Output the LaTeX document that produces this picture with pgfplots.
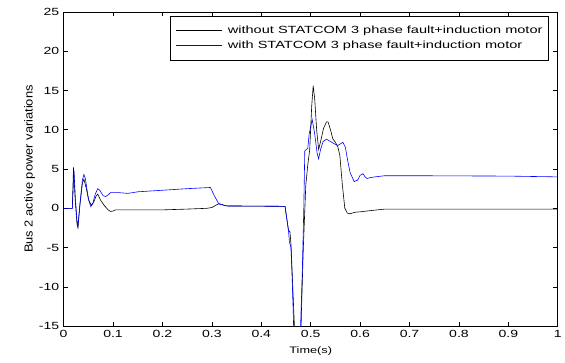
\documentclass[border=0pt]{standalone}
\usepackage{fontspec}
\setmainfont{Liberation Sans}
\usepackage{graphicx}
\newcommand\sx[1]{\scalebox{1.35}[1]{#1}}
\newcommand\lx[1]{\scalebox{1.4}[1]{#1}}
\usepackage{pgfplots}
\pgfplotsset{compat=1.18}
\begin{document}
\begin{tikzpicture}
\begin{axis}[
  name=ax,
  scale only axis,
  width=497bp, height=316bp,
  xmin=0, xmax=1, ymin=-15, ymax=25,
  xtick={0,0.1,...,1.0},
  xticklabels={\sx{0},\sx{0.1},\sx{0.2},\sx{0.3},\sx{0.4},\sx{0.5},\sx{0.6},\sx{0.7},\sx{0.8},\sx{0.9},\sx{1}},
  ytick={-15,-10,-5,0,5,10,15,20,25},
  yticklabels={\sx{-15},\sx{-10},\sx{-5},\sx{0},\sx{5},\sx{10},\sx{15},\sx{20},\sx{25}},
  tick align=inside,
  major tick length=4.5bp,
  tick style={black, line width=0.6pt},
  axis line style={line width=0.7pt},
  every axis plot/.append style={line width=0.6pt},
  ticklabel style={font=\fontsize{10.5}{12}\selectfont},
  xticklabel style={yshift=-1bp},
  yticklabel style={xshift=-1bp},
  xlabel={\sx{Time(s)}},
  ylabel={\scalebox{1}[0.9]{Bus 2 active power variations}},
  xlabel style={font=\fontsize{9.5}{11}\selectfont, yshift=-2bp},
  ylabel style={font=\fontsize{13}{14}\selectfont, yshift=-3bp},
  clip=true,
]
\addplot[black] coordinates {
(0,0) (0.0175,0) (0.02,5.2) (0.0235,1) (0.027,-2.0) (0.029,-2.5) (0.033,0.5) (0.038,3.2)
(0.041,3.7) (0.046,2.5) (0.051,1.0) (0.056,0.4) (0.061,0.8) (0.066,1.6) (0.069,1.8)
(0.075,1.0) (0.083,0.3) (0.09,-0.2) (0.095,-0.4) (0.1,-0.35) (0.105,-0.2) (0.2,-0.2)
(0.25,-0.1) (0.29,0) (0.3,0.1) (0.314,0.6) (0.33,0.3) (0.448,0.25) (0.452,-1.5)
(0.455,-2.8) (0.458,-3.0) (0.46,-4.5) (0.463,-9) (0.467,-15) (0.472,-20) (0.479,-20)
(0.481,-13.6) (0.485,-5.1) (0.49,2.9) (0.494,5.5) (0.498,7.5) (0.502,13) (0.505,15.6)
(0.508,14) (0.512,10) (0.516,7.5) (0.52,8.5) (0.526,10.2) (0.532,11) (0.535,11)
(0.54,10) (0.545,8.8) (0.55,8.4) (0.555,7.8) (0.559,6.7) (0.564,3) (0.569,0)
(0.574,-0.6) (0.579,-0.7) (0.59,-0.5) (0.6,-0.45) (0.62,-0.3) (0.65,-0.1) (1.0,-0.1)
};
\addplot[color=blue] coordinates {
(0,0) (0.0175,0) (0.021,4.8) (0.0235,1.5) (0.027,-1.5) (0.029,-2.2) (0.033,0.5)
(0.038,3.6) (0.041,4.3) (0.044,3.8) (0.05,1.2) (0.055,0.2) (0.059,0.6) (0.064,1.8)
(0.069,2.5) (0.073,2.3) (0.08,1.6) (0.085,1.5) (0.09,1.7) (0.095,2.0) (0.11,2.0)
(0.13,1.9) (0.15,2.1) (0.2,2.3) (0.25,2.5) (0.297,2.65) (0.305,1.6) (0.314,0.55)
(0.33,0.3) (0.448,0.25) (0.452,-1.5) (0.455,-2.8) (0.457,-4.3) (0.46,-5.0) (0.462,-8)
(0.465,-14) (0.467,-20) (0.478,-20) (0.48,-14) (0.483,-8) (0.486,0) (0.488,7.3)
(0.491,7.5) (0.494,7.6) (0.497,9.5) (0.503,11.3) (0.508,9.5) (0.513,7) (0.516,6.3)
(0.52,7.5) (0.525,8.5) (0.532,8.8) (0.54,8.5) (0.548,8.2) (0.555,8.0) (0.56,8.2)
(0.565,8.4) (0.57,7.8) (0.575,6.0) (0.58,4.5) (0.588,3.4) (0.595,3.6) (0.6,4.2)
(0.606,4.4) (0.61,4.0) (0.614,3.8) (0.62,3.9) (0.63,4.0) (0.65,4.15) (0.7,4.15)
(0.9,4.1) (1.0,4.0)
};
\end{axis}
\node[draw=black, line width=0.7pt, fill=white, anchor=north east, inner xsep=6bp, inner ysep=6.5bp,
  font=\fontsize{10.5}{12}\selectfont]
  at ([shift={(-9bp,-4bp)}]ax.north east) {%
  \renewcommand{\arraystretch}{1.3}%
  \begin{tabular}{@{}l@{\hspace{6bp}}l@{}}
  \textcolor{black}{\rule[0.3em]{46bp}{0.7pt}} & \lx{without STATCOM 3 phase fault+induction motor}\\
  \textcolor{blue}{\rule[0.3em]{46bp}{0.7pt}} & \lx{with STATCOM 3 phase fault+induction motor}
  \end{tabular}};
\path ([shift={(-64bp,-37bp)}]ax.south west) rectangle ([shift={(4bp,12bp)}]ax.north east);
\end{tikzpicture}
\end{document}
